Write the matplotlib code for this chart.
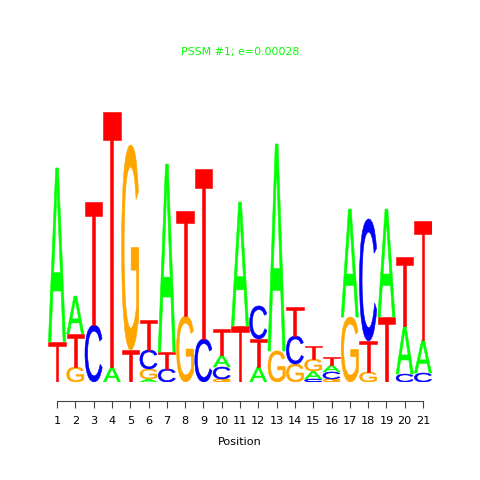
import matplotlib
matplotlib.use("Agg")
import matplotlib.pyplot as plt
from matplotlib.textpath import TextPath
from matplotlib.patches import PathPatch
from matplotlib.font_manager import FontProperties
from matplotlib.transforms import Affine2D

# letter heights (bits) per position, listed bottom to top
positions = list(range(1, 22))
stacks = [
    [("T", 0.267), ("A", 1.16)],
    [("G", 0.10), ("T", 0.22), ("A", 0.253)],
    [("C", 0.38), ("T", 0.82)],
    [("A", 0.10), ("T", 1.70)],
    [("T", 0.213), ("G", 1.367)],
    [("A", 0.02), ("G", 0.067), ("C", 0.127), ("T", 0.20)],
    [("C", 0.087), ("T", 0.113), ("A", 1.253)],
    [("G", 0.44), ("T", 0.70)],
    [("C", 0.287), ("T", 1.133)],
    [("G", 0.02), ("C", 0.08), ("A", 0.08), ("T", 0.173)],
    [("T", 0.373), ("A", 0.827)],
    [("A", 0.10), ("T", 0.187), ("C", 0.22)],
    [("G", 0.207), ("A", 1.38)],
    [("G", 0.12), ("C", 0.187), ("T", 0.193)],
    [("C", 0.02), ("A", 0.053), ("G", 0.08), ("T", 0.087)],
    [("G", 0.02), ("C", 0.047), ("A", 0.047), ("T", 0.053)],
    [("G", 0.433), ("A", 0.72)],
    [("G", 0.067), ("T", 0.207), ("C", 0.813)],
    [("T", 0.433), ("A", 0.72)],
    [("C", 0.053), ("A", 0.32), ("T", 0.46)],
    [("C", 0.06), ("A", 0.22), ("T", 0.793)],
]
colors = {"A": "#00FF00", "C": "#0000FF", "G": "#FFA500", "T": "#FF0000"}
title = "PSSM #1; e=0.00028"

fp = FontProperties(family="Liberation Sans")


def draw_letter(ax, letter, x, y, w, h):
    # stretch the glyph outline to fill the box
    tp = TextPath((0, 0), letter, size=1, prop=fp)
    ext = tp.get_extents()
    tr = (Affine2D()
          .translate(-ext.x0, -ext.y0)
          .scale(w / ext.width, h / ext.height)
          .translate(x, y))
    path = tr.transform_path(tp)
    ax.add_patch(PathPatch(path, facecolor=colors[letter],
                           edgecolor=colors[letter], linewidth=0.4))


fig = plt.figure(figsize=(4.8, 4.8), dpi=100)
ax = fig.add_axes([47.85 / 480, 98 / 480, 384.3 / 480, 300 / 480])
ax.set_xlim(0.5, 21.5)
ax.set_ylim(0, 2)

for pos, stack in zip(positions, stacks):
    y = 0
    for letter, h in stack:
        draw_letter(ax, letter, pos - 0.47, y, 0.94, h)
        y += h

for s in ["top", "left", "right"]:
    ax.spines[s].set_visible(False)
ax.spines["bottom"].set_position(("outward", 13.7))
ax.spines["bottom"].set_bounds(1, 21)
ax.spines["bottom"].set_color("#444444")
ax.set_yticks([])
ax.set_xticks(positions)
ax.tick_params(axis="x", length=5, color="#444444", labelsize=8.1, pad=6)
ax.set_xlabel("Position", fontsize=8.1, labelpad=8)

fig.text(240 / 480, 1 - 52 / 480, title, color="#00FF00", fontsize=7.9,
         ha="center", va="center")

fig.savefig("out.png", dpi=100)
